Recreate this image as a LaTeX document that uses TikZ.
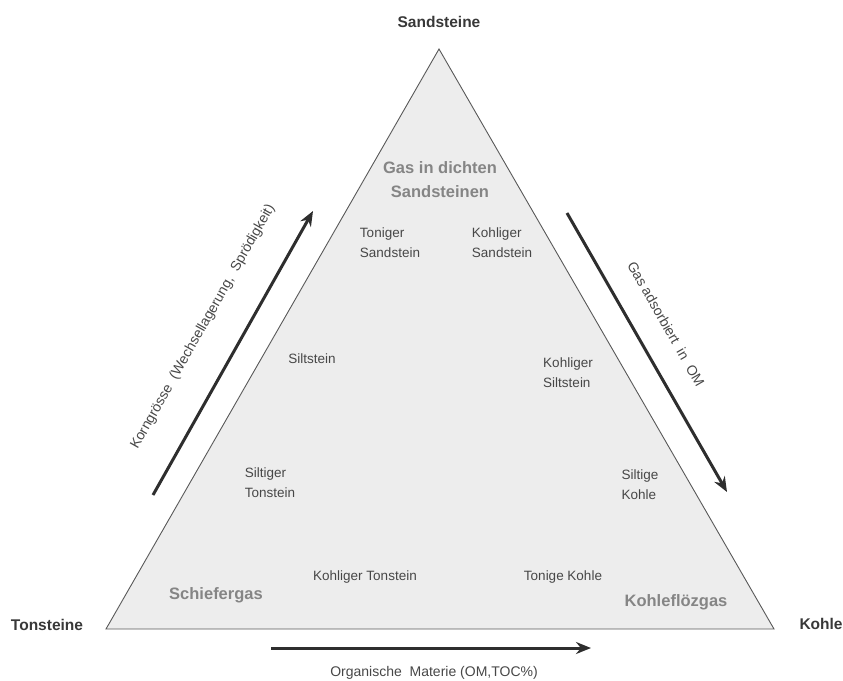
\documentclass[tikz,border=0pt]{standalone}
\usepackage{fontspec}
\setmainfont{Liberation Sans}
\usetikzlibrary{arrows.meta}

\begin{document}
\begin{tikzpicture}[x=1pt,y=-1pt,
  rock/.style={text=black!72,align=left,font=\fontsize{13.5}{20}\selectfont},
  gas/.style={text=black!48,align=center,font=\bfseries\fontsize{16.5}{24}\selectfont},
  pole/.style={text=black!78,font=\bfseries\fontsize{15.5}{18}\selectfont},
  trend/.style={draw=black!82,line width=3pt,-{Stealth[length=15pt,width=12pt]}},
  trendlabel/.style={text=black!72,font=\fontsize{14}{16}\selectfont}]
\useasboundingbox (0,0) rectangle (843,680);

% triangle
\coordinate (top) at (439,49);
\coordinate (left) at (106,629);
\coordinate (right) at (774,629);
\filldraw[fill=black!7,draw=black!65,line width=0.9pt] (top) -- (left) -- (right) -- cycle;

% end members
\node[pole] (sand) at (439,22) {Sandsteine};
\node[pole] (ton) at (47,625) {Tonsteine};
\node[pole,anchor=west] (kohle) at (796,624) {Kohle};

% gas types
\node[gas] (tightgas) at (440,180) {Gas in dichten\\Sandsteinen};
\node[gas] (shalegas) at (216,595) {Schiefergas};
\node[gas] (cbm) at (676,602) {Kohleflözgas};

% rock types
\node[rock] (tonsand) at (390,243) {Toniger\\Sandstein};
\node[rock] (kohlsand) at (502,243) {Kohliger\\Sandstein};
\node[rock] (silt) at (312,359) {Siltstein};
\node[rock] (kohlsilt) at (568,373) {Kohliger\\Siltstein};
\node[rock] (silton) at (270,483) {Siltiger\\Tonstein};
\node[rock] (siltkohle) at (640,485) {Siltige\\Kohle};
\node[rock] (kohlton) at (365,577) {Kohliger Tonstein};
\node[rock] (tonkohle) at (563,577) {Tonige Kohle};

% trends
\coordinate (grainA) at (153,495);
\coordinate (grainB) at (313,211);
\coordinate (omA) at (567,213);
\coordinate (omB) at (727,492);
\coordinate (tocA) at (271,648);
\coordinate (tocB) at (591,648);
\draw[trend] (grainA) -- (grainB);
\draw[trend] (omA) -- (omB);
\draw[trend] (tocA) -- (tocB);
\node[trendlabel,rotate=60.5] (grainlabel) at (203,327) {Korngrösse\ \ (Wechsellagerung,\ \ Sprödigkeit)};
\node[trendlabel,rotate=-60.3] (omlabel) at (666,324) {Gas adsorbiert\ \ in\ \ OM};
\node[trendlabel] (toclabel) at (434,673) {Organische\ \ Materie (OM,TOC\%)};
\end{tikzpicture}
\end{document}
